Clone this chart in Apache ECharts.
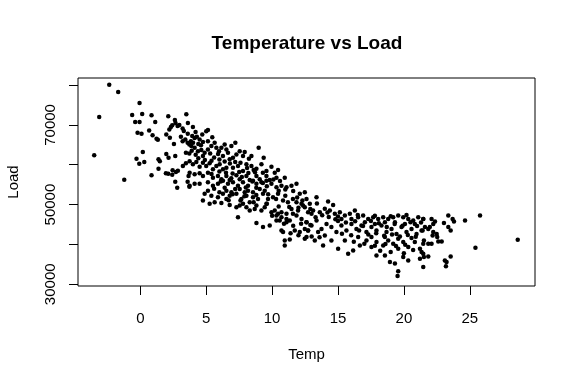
<!DOCTYPE html>
<html>
<head>
<meta charset="utf-8">
<script src="https://cdn.jsdelivr.net/npm/echarts@6/dist/echarts.min.js"></script>
<style>html,body{margin:0;padding:0;background:#fff}#c{width:576px;height:384px}</style>
</head>
<body>
<div id="c"></div>
<script>
// Tick values
const xTicks = [0, 5, 10, 15, 20, 25];
const yTicks = [30000, 40000, 50000, 60000, 70000, 80000];
const yLabels = [30000, 50000, 70000];

// Temperature values
const temp = [
-2.36,-1.68,-3.12,-0.06,-0.62,0.14,0.85,-0.39,-0.06,1.13,2.12,3.49,-0.21,0.09,0.67,0.93,1.23,1.33,2.2,2.32,2.42,2.62,2.67,2.83,2.96,3.21,3.61,1.97,2.24,2.55,3.08,3.21,3.41,3.59,3.72,3.84,3.46,3.72,-3.5,-0.29,-0.08,0.3,0.19,1.38,1.48,1.97,2.14,2.65,1.38,1.94,2.12,2.45,2.7,2.85,2.42,3.23,3.46,0.85,-1.22,3.66,2.65,3.59,2.8,3.72,
3.99,4.19,3.94,4.12,4.29,4.5,4.7,5.0,5.13,4.75,5.13,5.46,
3.87,4.12,4.37,4.63,4.88,4.75,5.13,5.39,
5.64,5.77,5.97,6.15,6.4,6.53,6.27,6.65,6.91,7.21,
6.78,7.03,7.29,7.54,7.79,7.92,8.24,8.43,8.98,9.36,
3.74,3.99,4.25,4.5,4.75,5.0,5.26,5.51,5.77,6.02,6.27,6.53,
7.03,7.41,7.79,8.05,8.43,8.81,9.19,9.57,9.95,10.2,10.45,
3.74,4.12,4.5,4.75,5.13,5.51,5.89,6.15,6.53,6.78,7.29,7.54,8.05,8.3,8.81,9.06,9.57,9.82,10.33,10.96,
3.74,4.12,4.5,5.13,5.51,5.89,6.27,6.65,7.03,7.41,7.79,8.17,8.55,8.81,9.19,9.57,9.95,10.33,10.71,11.09,11.47,11.85,12.1,12.48,
4.88,5.13,5.39,5.89,6.27,6.53,6.78,7.29,7.67,8.05,8.3,8.55,8.93,9.31,9.69,10.07,10.45,10.83,11.2,11.58,
4.75,5.26,5.64,6.15,6.78,7.29,7.79,8.3,8.81,9.44,9.95,10.33,10.71,11.09,11.58,11.97,12.35,12.73,
7.41,8.81,9.31,9.82,10.58,11.09,10.71,10.83,11.72,12.1,12.48,12.73,10.96,11.34,12.48,10.96,
10.2,10.45,10.71,11.09,11.34,11.85,12.23,12.61,10.33,11.47,11.85,12.23,12.61,
6.53,6.91,7.54,7.92,8.17,8.55,9.06,9.44,7.54,8.05,8.68,9.19,9.57,
13.37,14.25,14.63,
12.48,12.86,13.11,13.62,14.0,14.38,14.76,15.14,15.52,15.9,16.28,16.53,16.91,17.29,17.67,18.05,18.43,18.81,19.19,19.57,19.95,20.33,20.71,21.09,21.47,
12.61,12.99,13.37,13.75,14.13,14.5,14.88,15.26,15.64,16.02,16.4,16.78,17.16,17.54,17.92,18.3,18.68,19.06,19.44,19.82,20.2,20.58,20.96,21.34,
12.61,13.24,13.87,15.01,15.77,16.15,16.66,17.16,17.54,17.92,18.43,18.81,19.19,19.57,19.95,20.33,20.83,21.22,21.47,
17.92,18.56,18.94,19.32,19.57,19.52,19.95,20.33,21.22,21.47,
15.26,16.02,17.04,17.8,18.56,19.32,20.08,20.83,15.52,16.53,17.54,18.56,19.57,20.58,14.0,14.5,13.49,12.73,12.99,
21.47,22.1,22.36,22.23,21.6,21.85,21.42,21.97,
23.37,23.7,23.8,23.04,24.64,25.78,23.37,23.55,
22.23,22.49,22.18,22.53,21.52,21.85,22.1,22.61,22.87,
21.34,21.52,21.85,21.47,23.11,23.24,23.55,23.19,25.43,28.64,
3.3,3.6,4.0,4.4,4.6,3.9,4.2,5.3,5.6,5.9,4.4,4.9,5.4,6.0,6.4,6.8,7.2,7.6,8.1,8.6,
5.4,6.0,6.5,7.0,7.5,8.2,8.7,9.3,6.1,6.9,7.7,8.5,9.3,10.1,10.6,5.6,6.4,7.2,8.0,8.8,9.6,10.5,11.0,11.6,6.0,7.0,7.9,8.8,9.7,10.3,11.0,11.9,12.3,6.7,7.6,8.6,9.6,10.5,11.3,12.0,12.9,13.4,
10.0,10.9,11.6,12.2,12.9,13.3,13.8,14.3,14.8,11.4,12.0,13.0,13.6,
15.0,15.6,16.3,16.9,17.5,18.1,18.7,19.3,19.9,20.5,21.0,15.3,16.0,16.6,17.3,17.9,18.5,19.1,19.7,20.3,20.9,16.2,17.0,17.8,18.6,19.4,20.1,20.7,18.2,19.0,20.0,14.2,15.0,16.5,17.8,19.0,20.2,21.3
];

// Load values, same order as temp
const load = [
80100,78250,72000,75500,72500,72750,72400,70750,70750,70750,72200,72700,68000,67750,68600,67400,66500,66250,68850,69500,69900,71250,70500,69700,70000,69100,70500,67600,66750,65200,67000,65900,66350,65500,65100,65900,63000,62850,62400,61500,60250,60700,63200,61350,60900,62700,61750,62200,59000,57850,57750,58600,58200,58500,57500,59700,60350,57350,56250,57200,55750,55750,54250,54500,
69500,68200,67200,66700,67000,66350,67600,68400,68700,65700,65900,66900,
64700,64250,63400,63700,63000,62200,63850,64700,
65500,64250,63400,64250,65100,63850,62200,63000,64700,65500,
61350,61750,62600,63400,62200,63200,61500,62200,64250,61750,
60900,60100,60700,59500,60500,59700,60350,58850,59700,60100,58850,59250,
59250,59700,58400,60100,59700,59000,60100,58400,59500,58000,58700,
58000,57600,57850,57200,58000,56750,57200,56350,57200,56150,57350,56350,57200,56150,57200,56350,57200,56150,56750,56750,
54750,55200,55200,55600,54750,55200,56000,55200,55600,54750,55600,54750,56000,55200,55600,56000,55200,54350,54750,54350,54750,55200,52700,53100,
52700,53500,52250,51850,52700,51400,52250,52700,51400,52250,50600,51850,51400,52700,51400,51850,52700,51000,50600,51400,
51000,50200,50600,50400,49900,49350,50200,48500,49750,49350,48100,47250,48100,46400,47700,48500,49750,48100,
46850,45400,44350,44750,46000,45600,43500,43100,43500,43100,43900,43500,41000,41250,41400,39750,
48500,47700,46850,47700,46000,47250,46400,45600,46000,48900,50600,50200,51400,
53500,53100,53900,53100,53500,53100,53900,53500,49750,49350,48900,48500,50200,
51850,50750,49900,
49350,50200,48500,48100,48950,48500,47700,48100,47250,47700,48500,46850,47250,46400,46850,46400,46850,46400,46850,47250,46850,46400,46000,46850,46400,
45600,44750,46000,43900,45150,44350,43100,44750,43500,45150,43900,44750,43100,44350,43500,44750,43100,43900,42650,44350,43100,43900,42650,43500,
41850,41000,39750,38900,37650,38500,39750,41000,39350,40600,39750,41000,40200,38900,40600,39350,40600,38900,40200,
37250,37250,35600,35200,33250,32100,36850,36000,36400,34350,
46400,46400,45600,45150,45600,45600,45150,45150,41000,41850,41850,41850,41400,41600,42250,41000,43100,43500,47700,
46400,46400,45750,45150,44350,43900,43500,44350,
47250,46400,45750,45400,46000,47250,44350,43500,
43100,42650,42250,41850,41000,40200,40200,40750,40750,
38100,36850,37000,37650,36000,35600,37000,34500,39200,41200,
68500,67800,65500,65200,64900,63500,62500,62800,61800,62700,61600,61200,61000,61300,60800,60300,60700,60500,59200,58700,
57700,58300,58000,57800,58200,57900,58100,58000,55800,56600,56900,55800,55400,56300,55900,54000,54200,53900,54300,54200,54600,53500,53800,53400,53100,52600,52100,52400,52600,51400,52200,51800,51000,51100,51000,50600,50200,49500,49400,49200,48900,50300,
47200,45200,44700,45200,44900,46800,47300,46900,46300,42800,42300,42000,41800,
45900,45500,45800,44600,45900,45300,44400,45100,44700,45600,44600,42700,42300,43500,42500,42800,42200,42500,42000,42400,41900,40700,40200,39700,40100,39600,39900,38600,38400,38100,37800,48000,47000,47400,47200,47100,47400,45500
];

const points = temp.map((t, i) => [t, load[i]]);

const font = '"Liberation Sans", Arial, sans-serif';
const chart = echarts.init(document.getElementById('c'), null, {renderer: 'canvas'});
chart.setOption({
  animation: false,
  backgroundColor: '#fff',
  title: {
    text: 'Temperature vs Load',
    left: 307, top: 34, textAlign: 'center', padding: 0,
    textStyle: {fontFamily: font, fontSize: 19, fontWeight: 'bold', color: '#000'}
  },
  grid: {
    left: 78, right: 41, top: 78, bottom: 98,
    show: true, borderColor: '#000', borderWidth: 1, backgroundColor: 'transparent',
    outerBoundsMode: 'none', containLabel: false
  },
  xAxis: {
    type: 'value', min: -4.73, max: 29.95,
    name: 'Temp', nameLocation: 'middle', nameGap: 61,
    nameTextStyle: {fontFamily: font, fontSize: 15, color: '#000'},
    axisLine: {show: false, onZero: false},
    axisTick: {show: true, length: 9, customValues: xTicks, lineStyle: {color: '#000', width: 1}},
    axisLabel: {customValues: xTicks, fontFamily: font, fontSize: 15, color: '#000', margin: 25},
    splitLine: {show: false}
  },
  yAxis: {
    type: 'value', min: 29570, max: 81770,
    name: 'Load', nameLocation: 'middle', nameGap: 57, nameRotate: 90,
    nameTextStyle: {fontFamily: font, fontSize: 15, color: '#000'},
    axisLine: {show: false, onZero: false},
    axisTick: {show: true, length: 9, customValues: yTicks, lineStyle: {color: '#000', width: 1}},
    axisLabel: {customValues: yLabels, rotate: 90, fontFamily: font, fontSize: 15, color: '#000', margin: 20,
      formatter: v => String(v)},
    splitLine: {show: false}
  },
  series: [{
    type: 'scatter',
    data: points,
    symbol: 'circle',
    symbolSize: 4.5,
    itemStyle: {color: '#000', opacity: 1},
    silent: true
  }]
});
</script>
</body>
</html>
